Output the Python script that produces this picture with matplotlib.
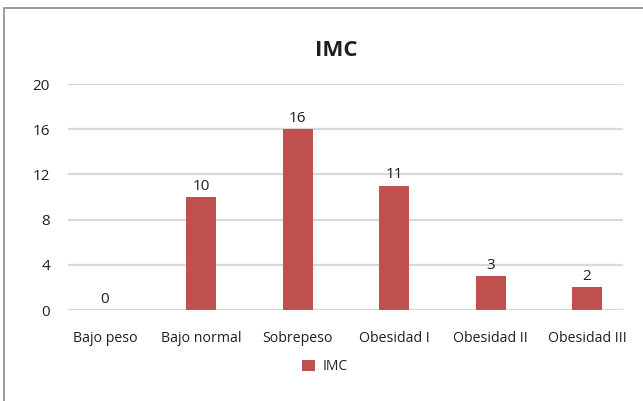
import matplotlib.pyplot as plt
from matplotlib.patches import Rectangle

categorias = ['Bajo peso', 'Bajo normal', 'Sobrepeso', 'Obesidad I', 'Obesidad II', 'Obesidad III']
imc = [0, 10, 16, 11, 3, 2]
yticks = [0, 4, 8, 12, 16, 20]

plt.rcParams['font.family'] = ['Open Sans', 'DejaVu Sans']
texto = '#1F1F1F'
rojo = '#C0504D'

fig = plt.figure(figsize=(6.43, 4.01), dpi=100)
ax = fig.add_axes([68 / 643, 1 - 310 / 401, 555 / 643, 226 / 401])

x = range(len(categorias))
barras = ax.bar(x, imc, width=0.31, color=rojo, label='IMC', zorder=3)
for b, v in zip(barras, imc):
    ax.annotate(str(v), (b.get_x() + b.get_width() / 2, v), xytext=(0, 2.5),
                textcoords='offset points', ha='center', va='bottom',
                fontsize=11, color=texto)

ax.set_xlim(-0.384, 5.373)
ax.set_ylim(0, 20)
ax.set_yticks(yticks)
ax.set_xticks(list(x))
ax.set_xticklabels(categorias)
ax.tick_params(axis='x', length=0, labelsize=10.2, colors=texto, pad=15)
ax.tick_params(axis='y', length=0, labelsize=11, colors=texto, pad=13)
ax.grid(axis='y', color='#D9D9D9', linewidth=1.6, zorder=0)
for s in ax.spines.values():
    s.set_visible(False)

fig.text(336 / 643, 1 - 50.5 / 401, 'IMC', ha='center', va='center',
         fontsize=16, fontweight='bold', color=texto)

fig.legend(handles=[barras], labels=['IMC'], loc='center',
           bbox_to_anchor=(325 / 643, 1 - 367 / 401), frameon=False,
           fontsize=10, handlelength=0.9, handleheight=0.9, handletextpad=0.6,
           labelcolor=texto)

# marco del gráfico
fig.patches.append(Rectangle((4 / 643, -0.05), 1.1, 1 - 8 / 401 + 0.05,
                             transform=fig.transFigure, fill=False,
                             edgecolor='#8C8C8C', linewidth=1.2))

fig.savefig('out.png', dpi=100)
